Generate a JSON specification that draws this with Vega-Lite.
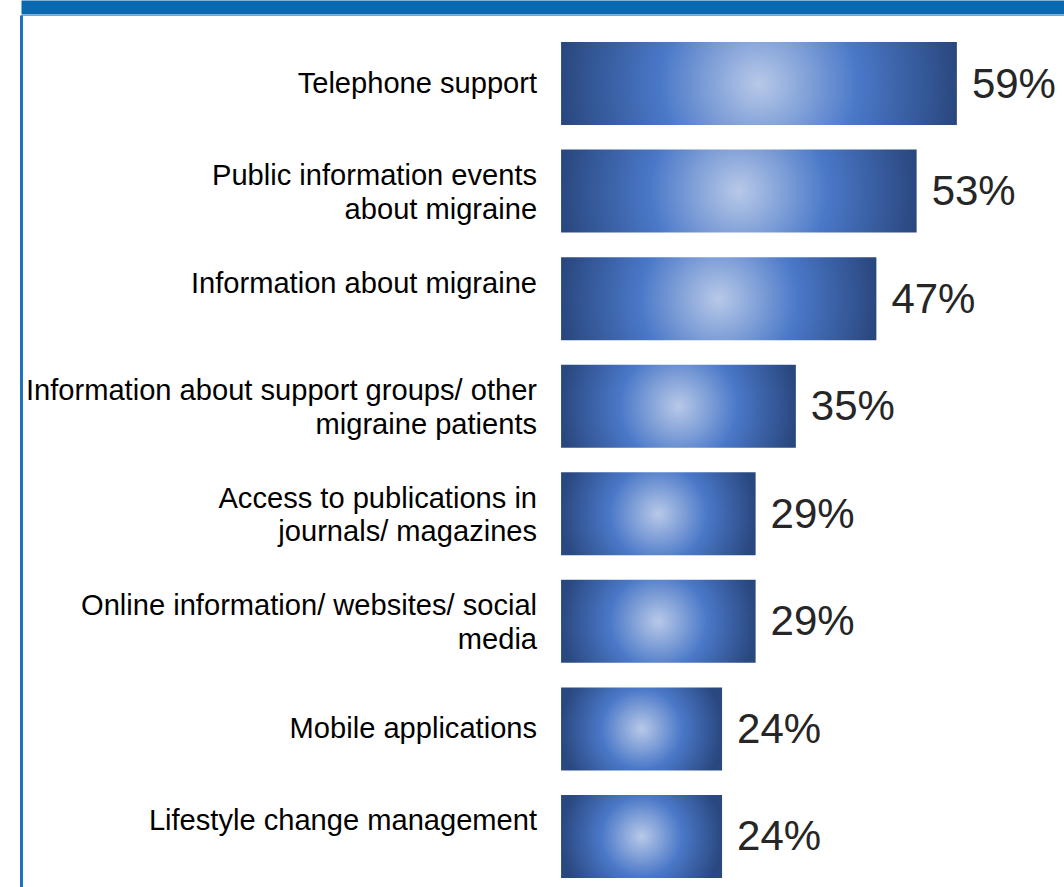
{
  "$schema": "https://vega.github.io/schema/vega-lite/v6.json",
  "autosize": "none",
  "padding": {"left": 21, "top": 15, "right": 0, "bottom": 0},
  "width": 1060,
  "height": 890,
  "background": "white",
  "config": {
    "view": {"stroke": "#6FA8DC", "strokeWidth": 1},
    "font": "Liberation Sans"
  },
  "data": {
    "values": [
      {"item": "Telephone support", "value": 0.59},
      {"item": "Public information events\nabout migraine", "value": 0.53},
      {"item": "Information about migraine\n ", "value": 0.47},
      {"item": "Information about support groups/ other\nmigraine patients", "value": 0.35},
      {"item": "Access to publications in\njournals/ magazines", "value": 0.29},
      {"item": "Online information/ websites/ social\nmedia", "value": 0.29},
      {"item": "Mobile applications", "value": 0.24},
      {"item": "Lifestyle change management\n ", "value": 0.24}
    ]
  },
  "encoding": {
    "y": {
      "field": "item",
      "type": "nominal",
      "sort": null,
      "scale": {"paddingInner": 0.228, "paddingOuter": 0.251},
      "axis": {
        "orient": "left",
        "title": null,
        "labels": false,
        "ticks": false,
        "domain": true,
        "domainColor": "#1E72BB",
        "domainWidth": 3
      }
    }
  },
  "layer": [
    {
      "mark": {
        "type": "bar",
        "color": {
          "gradient": "radial",
          "x1": 0.5, "y1": 0.5, "r1": 0,
          "x2": 0.5, "y2": 0.5, "r2": 0.5,
          "stops": [
            {"offset": 0, "color": "#B8C9E8"},
            {"offset": 0.5, "color": "#4A78C8"},
            {"offset": 1, "color": "#2A4880"}
          ]
        }
      },
      "encoding": {
        "x": {
          "field": "value",
          "type": "quantitative",
          "scale": {"domain": [-0.805, 0.775], "nice": false, "zero": false},
          "axis": {
            "orient": "top",
            "title": null,
            "labels": false,
            "ticks": false,
            "grid": false,
            "domain": true,
            "domainColor": "#0B69B0",
            "domainWidth": 14,
            "offset": 8
          }
        },
        "x2": {"datum": 0}
      }
    },
    {
      "mark": {
        "type": "text",
        "align": "left",
        "baseline": "middle",
        "dx": 15,
        "dy": 1,
        "fontSize": 42,
        "color": "#262626"
      },
      "encoding": {
        "x": {"field": "value", "type": "quantitative"},
        "text": {"field": "value", "type": "quantitative", "format": ".0%"}
      }
    },
    {
      "transform": [{"filter": "indexof(datum.item, '\\n') < 0"}],
      "mark": {
        "type": "text",
        "align": "right",
        "baseline": "middle",
        "dx": -24,
        "fontSize": 29.1,
        "lineHeight": 33.5,
        "lineBreak": "\n",
        "color": "#000000"
      },
      "encoding": {
        "x": {"datum": 0},
        "text": {"field": "item", "type": "nominal"}
      }
    },
    {
      "transform": [{"filter": "indexof(datum.item, '\\n') >= 0"}],
      "mark": {
        "type": "text",
        "align": "right",
        "baseline": "middle",
        "dx": -24,
        "dy": -15,
        "fontSize": 29.1,
        "lineHeight": 33.5,
        "lineBreak": "\n",
        "color": "#000000"
      },
      "encoding": {
        "x": {"datum": 0},
        "text": {"field": "item", "type": "nominal"}
      }
    }
  ]
}
